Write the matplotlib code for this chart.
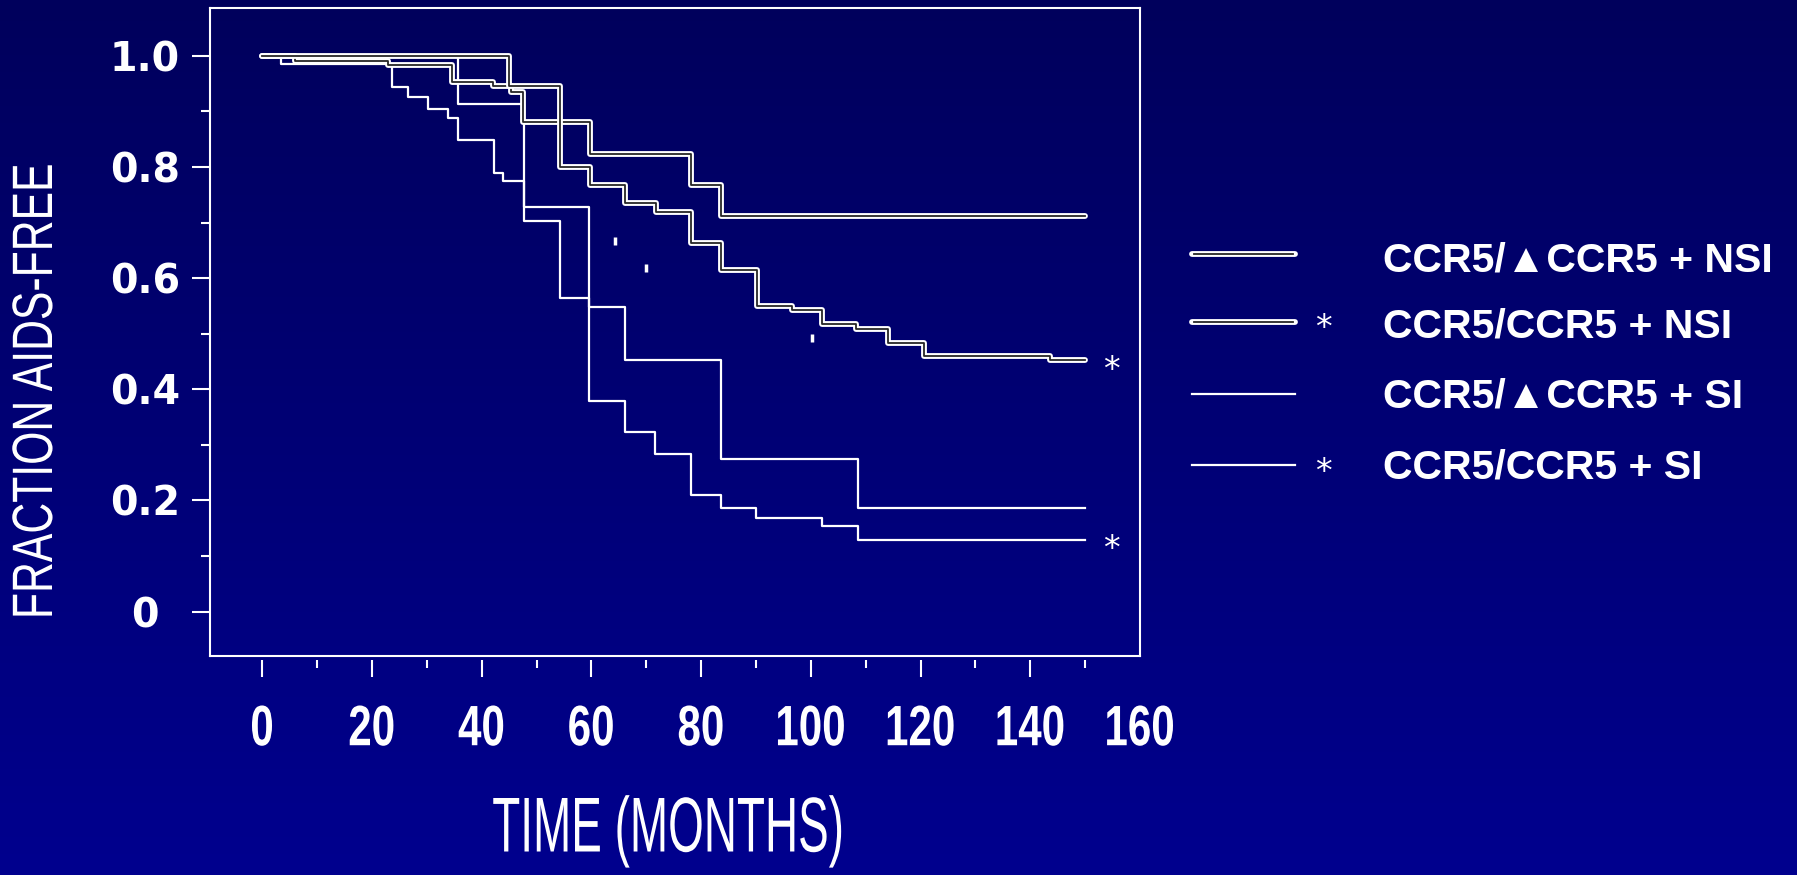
import matplotlib
matplotlib.use("Agg")
import numpy as np
import matplotlib.pyplot as plt
from matplotlib.lines import Line2D
from matplotlib.patheffects import AbstractPathEffect
from matplotlib.transforms import Affine2D, offset_copy

# Kaplan-Meier curves (months, fraction AIDS-free), step-post
t_delta_nsi = [0, 5.9, 22.9, 34.5, 42.1, 45.4, 47.6, 59.7, 78.1, 83.7, 150]
s_delta_nsi = [1.0, 0.991, 0.984, 0.952, 0.945, 0.934, 0.880, 0.823, 0.768, 0.711, 0.711]

t_wt_nsi = [0, 44.9, 54.2, 59.7, 66.1, 71.7, 78.1, 83.7, 90.1, 96.5, 102.1, 108.3,
            114.1, 120.6, 143.6, 150]
s_wt_nsi = [1.0, 0.945, 0.800, 0.768, 0.735, 0.719, 0.663, 0.614, 0.549, 0.542, 0.517,
            0.509, 0.484, 0.460, 0.452, 0.452]

t_delta_si = [0, 35.7, 47.7, 59.6, 66.1, 83.6, 108.6, 150]
s_delta_si = [1.0, 0.913, 0.728, 0.548, 0.452, 0.274, 0.186, 0.186]

t_wt_si = [0, 3.4, 23.6, 26.6, 30.2, 33.9, 35.7, 42.3, 43.9, 47.7, 54.2, 59.6, 66.1,
           71.6, 78.1, 83.6, 90.0, 102.1, 108.6, 150]
s_wt_si = [1.0, 0.985, 0.943, 0.926, 0.904, 0.888, 0.849, 0.790, 0.774, 0.702, 0.564,
           0.379, 0.323, 0.284, 0.210, 0.186, 0.169, 0.154, 0.129, 0.129]

# small stray tick marks on the slide
mark_t = [64.3, 70.0, 100.2]
mark_s = [0.666, 0.619, 0.492]

legend_labels = ["CCR5/\u25b2CCR5 + NSI", "CCR5/CCR5 + NSI",
                 "CCR5/\u25b2CCR5 + SI", "CCR5/CCR5 + SI"]
legend_star = [False, True, False, True]

x_major = [0, 20, 40, 60, 80, 100, 120, 140, 160]
x_minor = [10, 30, 50, 70, 90, 110, 130, 150]
y_major = [0, 0.2, 0.4, 0.6, 0.8, 1.0]
y_labels = ["0", "0.2", "0.4", "0.6", "0.8", "1.0"]
y_minor = [0.1, 0.3, 0.5, 0.7, 0.9]


class Squeeze(AbstractPathEffect):
    """Compress text glyphs horizontally around the line's centre."""

    def __init__(self, sx):
        super().__init__()
        self.sx = sx

    def draw_path(self, renderer, gc, tpath, affine, rgbFace=None):
        xs = tpath.vertices[:, 0]
        cx = (xs.min() + xs.max()) / 2
        sq = Affine2D().translate(-cx, 0).scale(self.sx, 1).translate(cx, 0)
        renderer.draw_path(gc, tpath, sq + affine, rgbFace)


W, H = 1797, 875
fig = plt.figure(figsize=(W / 100, H / 100), dpi=100)

# background gradient
bg = fig.add_axes([0, 0, 1, 1], zorder=-10)
grad = np.linspace(0, 1, 256).reshape(-1, 1)
top = np.array([0, 0, 0x5c]) / 255
bot = np.array([0, 0, 0x8e]) / 255
img = top + (bot - top) * grad[:, :, None]
bg.imshow(img, aspect="auto", extent=[0, 1, 0, 1], origin="upper")
bg.axis("off")

ax = fig.add_axes([210 / W, 1 - 656 / H, 930 / W, 648 / H])
ax.set_facecolor("none")
ax.set_xlim(-9.55, 160)
ax.set_ylim(-0.080, 1.086)

for sp in ax.spines.values():
    sp.set_color("white")
    sp.set_linewidth(1.5)
ax.spines["bottom"].set_position(("outward", 3))
ax.spines["bottom"].set_visible(False)
ax.plot([0, 1], [0, 0], transform=ax.transAxes, color="white", lw=1.5,
        clip_on=False, solid_capstyle="projecting")

white_lw, inner_lw = 4.2, 1.3
inner_col = "#262626"

for t, s in [(t_delta_si, s_delta_si), (t_wt_si, s_wt_si)]:
    ax.step(t, s, where="post", color="white", lw=1.6)

for t, s in [(t_delta_nsi, s_delta_nsi), (t_wt_nsi, s_wt_nsi)]:
    ax.step(t, s, where="post", color="white", lw=white_lw,
            solid_capstyle="round", solid_joinstyle="round")
    ax.step(t, s, where="post", color=inner_col, lw=inner_lw)

ax.plot(mark_t, mark_s, ls="none", marker="|", ms=6, mew=2.5, color="white")

# significance stars at curve ends
star_tr = offset_copy(ax.transData, fig=fig, y=-14, units="points")
for yv in [s_wt_nsi[-1], s_wt_si[-1]]:
    ax.text(154.7, yv, "*", transform=star_tr, color="white", fontsize=24,
            ha="center", va="baseline", family="DejaVu Sans")

# ticks
ax.set_xticks(x_major)
ax.set_xticklabels([str(v) for v in x_major])
ax.set_xticks(x_minor, minor=True)
ax.xaxis.get_major_ticks()[-1].tick1line.set_visible(False)
ax.tick_params(axis="x", which="major", length=12, width=1.5, color="white",
               pad=19, labelsize=41, labelcolor="white")
ax.tick_params(axis="x", which="minor", length=6, width=1.5, color="white")
for lab in ax.get_xticklabels():
    lab.set_family("Liberation Sans")
    lab.set_weight("bold")
    lab.set_path_effects([Squeeze(0.74)])

ax.set_yticks(y_major)
ax.set_yticklabels(y_labels)
ax.set_yticks(y_minor, minor=True)
ax.tick_params(axis="y", which="major", length=13, width=1.5, color="white",
               pad=34, labelsize=28.5, labelcolor="white")
ax.tick_params(axis="y", which="minor", length=6.5, width=1.5, color="white")
for lab in ax.get_yticklabels():
    lab.set_ha("center")
    lab.set_family("DejaVu Sans")
    lab.set_weight("bold")

# axis titles (squashed like the slide)
fig.text(37 / W, 1 - 391 / H, "FRACTION AIDS-FREE", rotation=90, ha="center",
         va="center", color="white", fontsize=41, family="Liberation Sans",
         path_effects=[Squeeze(0.75)])
fig.text(669 / W, 1 - 831 / H, "TIME (MONTHS)", ha="center", va="center",
         color="white", fontsize=56, family="Liberation Sans",
         path_effects=[Squeeze(0.59)])

# hand-built legend
row_y = [254, 322, 394, 465]
row_base = [271.5, 338, 408, 479]
x0, x1 = 1192 / W, 1295 / W
for i, lab in enumerate(legend_labels):
    y = 1 - row_y[i] / H
    if i < 2:
        fig.add_artist(Line2D([x0, x1], [y, y], transform=fig.transFigure,
                              color="white", lw=white_lw, solid_capstyle="round"))
        fig.add_artist(Line2D([x0 + 2 / W, x1 - 2 / W], [y, y],
                              transform=fig.transFigure, color=inner_col,
                              lw=inner_lw))
    else:
        fig.add_artist(Line2D([x0, x1], [y, y], transform=fig.transFigure,
                              color="white", lw=1.6))
    if legend_star[i]:
        fig.text(1323 / W, 1 - (row_y[i] - 3 + 19.5) / H, "*", color="white",
                 fontsize=24, ha="center", va="baseline", family="DejaVu Sans")
    fig.text(1383 / W, 1 - row_base[i] / H, lab, color="white", fontsize=29.5,
             weight="bold", ha="left", va="baseline",
             family=["Liberation Sans", "DejaVu Sans"])

fig.savefig("out.png", dpi=100)
